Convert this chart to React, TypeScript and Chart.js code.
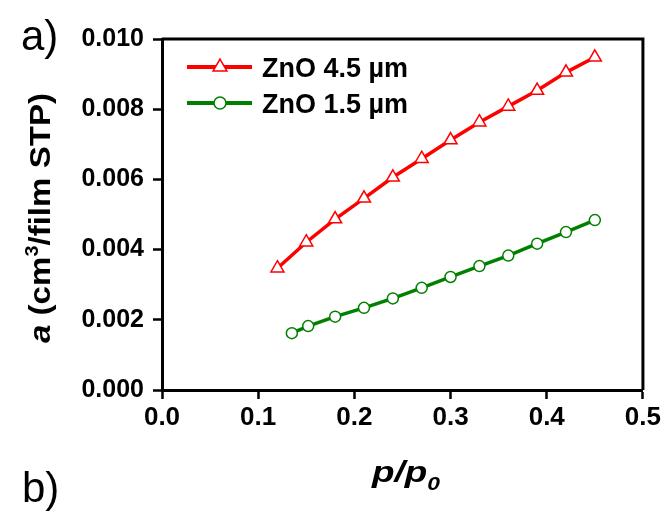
import React, { useEffect, useRef } from "react";
import { Chart, registerables } from "chart.js";

Chart.register(...registerables);

// Relative pressure p/p0 and adsorbed amount a (cm3/film STP)
const thickX: number[] = [0.12, 0.15, 0.18, 0.21, 0.24, 0.27, 0.30, 0.33, 0.36, 0.39, 0.42, 0.45];
const thickY: number[] = [0.00347, 0.00421, 0.00487, 0.00546, 0.00606, 0.00659, 0.00712, 0.00763, 0.00808, 0.00853, 0.00905, 0.00948];
const thinX: number[] = [0.135, 0.152, 0.18, 0.21, 0.24, 0.27, 0.30, 0.33, 0.36, 0.39, 0.42, 0.45];
const thinY: number[] = [0.00162, 0.00182, 0.00209, 0.00234, 0.00261, 0.00291, 0.00322, 0.00353, 0.00383, 0.00417, 0.0045, 0.00484];
const seriesNames: string[] = ["ZnO 4.5 µm", "ZnO 1.5 µm"];
const xTicks: number[] = [0, 0.1, 0.2, 0.3, 0.4, 0.5];
const yTicks: number[] = [0, 0.002, 0.004, 0.006, 0.008, 0.01];

const FAMILY = "'Liberation Sans', Arial, sans-serif";
const RED = "#ff0000";
const GREEN = "#008000";

type Run = { text: string; font: string; dy?: number };

function drawRuns(ctx: CanvasRenderingContext2D, runs: Run[], x: number, y: number, targetWidth?: number, center = false) {
  let total = 0;
  const widths = runs.map((r) => {
    ctx.font = r.font;
    const w = ctx.measureText(r.text).width;
    total += w;
    return w;
  });
  const sx = targetWidth ? targetWidth / total : 1;
  ctx.save();
  ctx.translate(x, y);
  ctx.scale(sx, 1);
  let cx = center ? -total / 2 : 0;
  ctx.textBaseline = "alphabetic";
  ctx.textAlign = "left";
  runs.forEach((r, i) => {
    ctx.font = r.font;
    ctx.fillText(r.text, cx, r.dy ?? 0);
    cx += widths[i];
  });
  ctx.restore();
}

const decorPlugin = {
  id: "decor",
  afterDatasetsDraw(chart: any) {
    const ctx: CanvasRenderingContext2D = chart.ctx;
    const { left, right, top, bottom } = chart.chartArea;
    ctx.save();
    // closing frame on top and right
    ctx.strokeStyle = "#000";
    ctx.lineWidth = 3;
    ctx.beginPath();
    ctx.moveTo(left, top);
    ctx.lineTo(right, top);
    ctx.lineTo(right, bottom);
    ctx.stroke();

    // legend
    const rows = [
      { y: 67, color: RED, shape: "triangle", name: seriesNames[0], base: 77 },
      { y: 103, color: GREEN, shape: "circle", name: seriesNames[1], base: 113 },
    ];
    rows.forEach((r) => {
      ctx.strokeStyle = r.color;
      ctx.lineWidth = 4;
      ctx.beginPath();
      ctx.moveTo(187, r.y);
      ctx.lineTo(252, r.y);
      ctx.stroke();
      ctx.fillStyle = "#fff";
      ctx.lineWidth = 1.5;
      ctx.beginPath();
      if (r.shape === "triangle") {
        const rad = 8;
        for (let k = 0; k < 3; k++) {
          const a = (k * 2 * Math.PI) / 3;
          const px = 220 + Math.sin(a) * rad;
          const py = r.y - Math.cos(a) * rad;
          if (k === 0) ctx.moveTo(px, py);
          else ctx.lineTo(px, py);
        }
        ctx.closePath();
      } else {
        ctx.arc(220, r.y, 6, 0, Math.PI * 2);
      }
      ctx.fill();
      ctx.stroke();
      ctx.fillStyle = "#000";
      drawRuns(ctx, [{ text: r.name, font: `bold 27px ${FAMILY}` }], 262, r.base, 146);
    });

    // y-axis title, rotated
    ctx.fillStyle = "#000";
    ctx.save();
    ctx.translate(50, 218);
    ctx.rotate(-Math.PI / 2);
    drawRuns(
      ctx,
      [
        { text: "a", font: `italic bold 30px ${FAMILY}` },
        { text: " (cm", font: `bold 30px ${FAMILY}` },
        { text: "3", font: `bold 18px ${FAMILY}`, dy: -12 },
        { text: "/film STP)", font: `bold 30px ${FAMILY}` },
      ],
      0,
      0,
      250,
      true
    );
    ctx.restore();

    // x-axis title
    drawRuns(
      ctx,
      [
        { text: "p/p", font: `italic bold 29px ${FAMILY}` },
        { text: "0", font: `italic bold 18px ${FAMILY}`, dy: 8 },
      ],
      372,
      482,
      68
    );

    // panel labels
    ctx.font = `42px ${FAMILY}`;
    ctx.textAlign = "left";
    ctx.textBaseline = "alphabetic";
    ctx.fillText("a)", 21, 50);
    ctx.fillText("b)", 22, 502);
    ctx.restore();
  },
};

export default function App() {
  const canvasRef = useRef<HTMLCanvasElement | null>(null);

  useEffect(() => {
    if (!canvasRef.current) return;
    const chart = new Chart(canvasRef.current, {
      type: "line",
      data: {
        datasets: [
          {
            label: seriesNames[0],
            data: thickX.map((x, i) => ({ x, y: thickY[i] })),
            borderColor: RED,
            backgroundColor: "#fff",
            borderWidth: 3.5,
            pointStyle: "triangle",
            pointRadius: 7.5,
            pointBorderWidth: 1.5,
            pointBorderColor: RED,
            pointBackgroundColor: "#fff",
          },
          {
            label: seriesNames[1],
            data: thinX.map((x, i) => ({ x, y: thinY[i] })),
            borderColor: GREEN,
            backgroundColor: "#fff",
            borderWidth: 3.5,
            pointStyle: "circle",
            pointRadius: 5.5,
            pointBorderWidth: 1.5,
            pointBorderColor: GREEN,
            pointBackgroundColor: "#fff",
          },
        ],
      },
      options: {
        responsive: false,
        animation: false,
        layout: { padding: { top: 39, right: 21, left: 0, bottom: 0 } },
        plugins: { legend: { display: false }, tooltip: { enabled: false } },
        scales: {
          x: {
            type: "linear",
            min: 0,
            max: 0.5,
            afterFit: (s: any) => {
              s.height = 126;
            },
            afterBuildTicks: (s: any) => {
              s.ticks = xTicks.map((v) => ({ value: v }));
            },
            ticks: {
              color: "#000",
              font: { family: FAMILY, weight: "bold", size: 26 },
              padding: 3,
              maxRotation: 0,
              callback: (v: any) => Number(v).toFixed(1),
            },
            grid: { drawOnChartArea: false, drawTicks: true, tickLength: 9, tickWidth: 2.5, tickColor: "#000" },
            border: { display: true, width: 3, color: "#000" },
          },
          y: {
            type: "linear",
            min: 0,
            max: 0.01,
            afterFit: (s: any) => {
              s.width = 162;
            },
            afterBuildTicks: (s: any) => {
              s.ticks = yTicks.map((v) => ({ value: v }));
            },
            ticks: {
              color: "#000",
              font: { family: FAMILY, weight: "bold", size: 25 },
              padding: 9,
              callback: (v: any) => Number(v).toFixed(3),
            },
            grid: { drawOnChartArea: false, drawTicks: true, tickLength: 9, tickWidth: 2.5, tickColor: "#000" },
            border: { display: true, width: 3, color: "#000" },
          },
        },
      },
      plugins: [decorPlugin],
    } as any);
    return () => chart.destroy();
  }, []);

  return (
    <div style={{ position: "absolute", left: 0, top: 0, width: 664, height: 516, background: "#fff" }}>
      <canvas ref={canvasRef} width={664} height={516} style={{ display: "block", width: 664, height: 516 }} />
    </div>
  );
}
